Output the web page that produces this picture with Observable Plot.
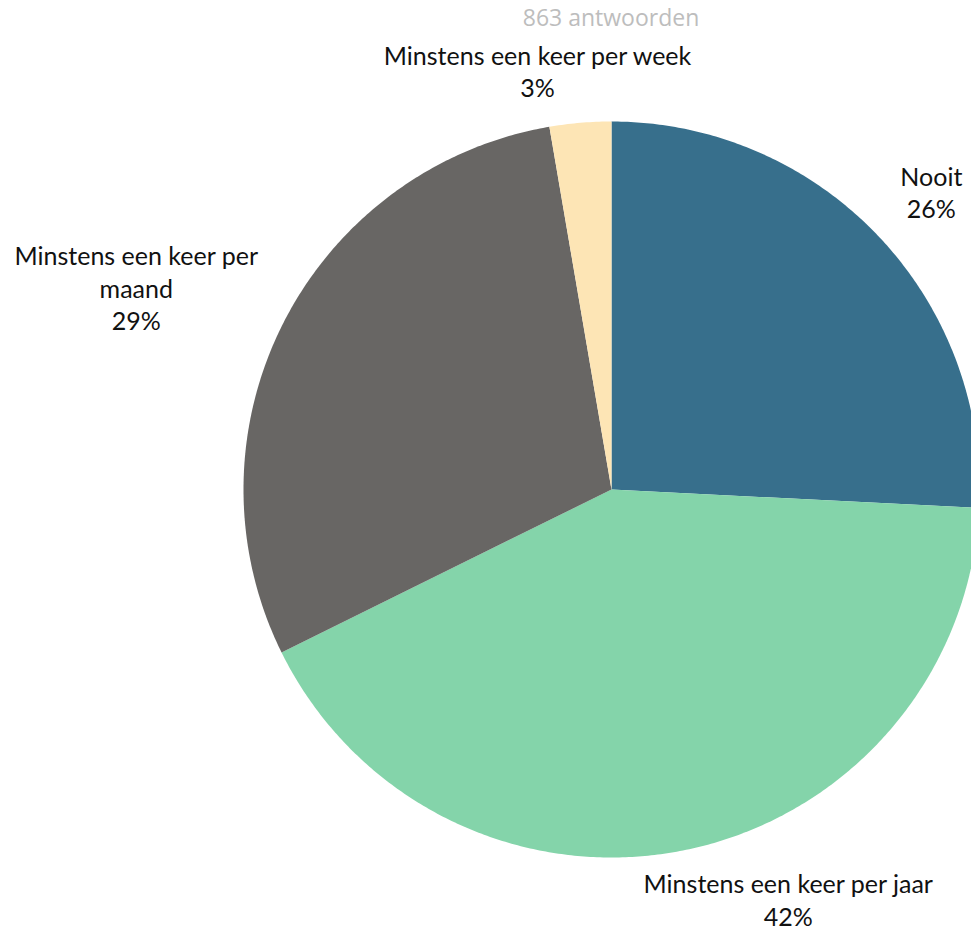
<!DOCTYPE html>
<html>
<head>
<meta charset="utf-8">
<script src="https://cdn.jsdelivr.net/npm/d3@7"></script>
<script src="https://cdn.jsdelivr.net/npm/@observablehq/plot@0.6"></script>
<style>
  html, body { margin: 0; padding: 0; background: #fff; overflow: hidden; }
  #subtitle { position: relative; height: 30px; width: 971px; }
  #subtitle span { position: absolute; left: 611px; top: 17px; transform: translate(-50%, -50%);
    font-family: "Open Sans", sans-serif; font-size: 23px; color: #bdbdbd; white-space: nowrap; }
  #chart svg { display: block; }
</style>
</head>
<body>
<div id="subtitle"><span>863 antwoorden</span></div>
<div id="chart"></div>
<script>
// ---- data ----
const categories = ["Nooit", "Minstens een keer per jaar", "Minstens een keer per maand", "Minstens een keer per week"];
const shares = [25.8, 41.9, 29.6, 2.7];          // slice sizes
const percentLabels = [26, 42, 29, 3];           // rounded values printed on the labels
const labelLines = ["Nooit", "Minstens een keer per jaar", "Minstens een keer per\nmaand", "Minstens een keer per week"];
const colors = ["#376f8c", "#84d4aa", "#686664", "#fde5b5"];

// ---- layout ----
const W = 971, H = 901;
const cx = 611, cy = 459, R = 368;       // pie centre / radius in px
const labelRadius = 1.18;                 // in pie radii
const labelNudge = [[0.014, -0.003], [0.241, 0.043], [-0.24, 0.014], [-0.101, -0.037]];

const arcs = d3.pie().sort(null).value(d => d)(shares);

const wedgePts = [];
arcs.forEach((a, i) => {
  const name = categories[i];
  wedgePts.push({name, u: 0, v: 0});
  const n = Math.max(2, Math.ceil((a.endAngle - a.startAngle) / (Math.PI / 360)));
  for (let k = 0; k <= n; k++) {
    const t = a.startAngle + (a.endAngle - a.startAngle) * k / n;
    wedgePts.push({name, u: Math.sin(t), v: Math.cos(t)});
  }
});

const labels = arcs.map((a, i) => {
  const m = (a.startAngle + a.endAngle) / 2;
  return {
    name: categories[i],
    u: labelRadius * Math.sin(m) + labelNudge[i][0],
    v: labelRadius * Math.cos(m) + labelNudge[i][1],
    text: labelLines[i] + "\n" + percentLabels[i] + "%"
  };
});

const chart = Plot.plot({
  width: W, height: H, margin: 0,
  x: {domain: [-cx / R, (W - cx) / R], range: [0, W], axis: null},
  y: {domain: [(cy - H) / R, cy / R], range: [H, 0], axis: null},
  color: {domain: categories, range: colors},
  marks: [
    Plot.line(wedgePts, {x: "u", y: "v", z: "name", fill: "name", stroke: "none", curve: "linear-closed"}),
    Plot.text(labels, {x: "u", y: "v", text: "text", fill: "#111", fontSize: 25, fontFamily: "Lato", lineHeight: 1.3})
  ]
});
document.getElementById("chart").appendChild(chart);
</script>
</body>
</html>
